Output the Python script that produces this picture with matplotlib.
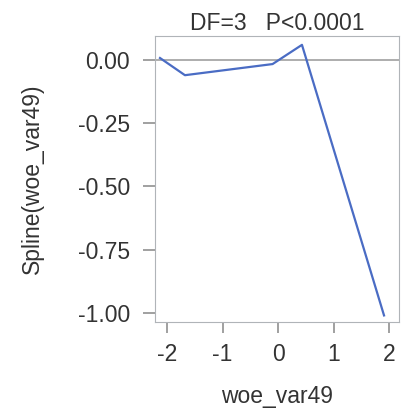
import matplotlib.pyplot as plt

plt.rcParams['font.family'] = ['Liberation Sans', 'DejaVu Sans']
plt.rcParams['axes.unicode_minus'] = False

# spline fit for woe_var49
woe_x = [-2.13, -1.68, -0.10, 0.43, 1.91]
spline_y = [0.008, -0.06, -0.016, 0.06, -1.01]
x_ticks = [-2, -1, 0, 1, 2]
y_ticks = [0.00, -0.25, -0.50, -0.75, -1.00]

fig = plt.figure(figsize=(4.12, 4.11), dpi=100)
ax = fig.add_axes([155 / 412, 1 - 322 / 411, 244 / 412, 286 / 411])

ax.axhline(0, color='#a0a0a0', lw=1.2, zorder=1)
ax.plot(woe_x, spline_y, color='#4a6cc4', lw=1.6, zorder=2)

ax.set_xlim(-2.22, 2.18)
ax.set_ylim(-1.036, 0.095)
ax.set_xticks(x_ticks)
ax.set_yticks(y_ticks)
ax.set_yticklabels([f'{v:.2f}' for v in y_ticks])

for s in ax.spines.values():
    s.set_color('#b0b4b8')
ax.tick_params(colors='#909090', labelcolor='#333333', labelsize=16.5, width=1.2)
ax.tick_params(axis='y', length=9, pad=9)
ax.tick_params(axis='x', length=8, pad=7)

ax.set_xlabel('woe_var49', fontsize=16.5, color='#333333', labelpad=14)
ax.set_ylabel('Spline(woe_var49)', fontsize=16.5, color='#333333', labelpad=24)
ax.set_title('DF=3   P<0.0001', fontsize=16.5, color='#333333', pad=4)

fig.savefig('out.png', dpi=100)
